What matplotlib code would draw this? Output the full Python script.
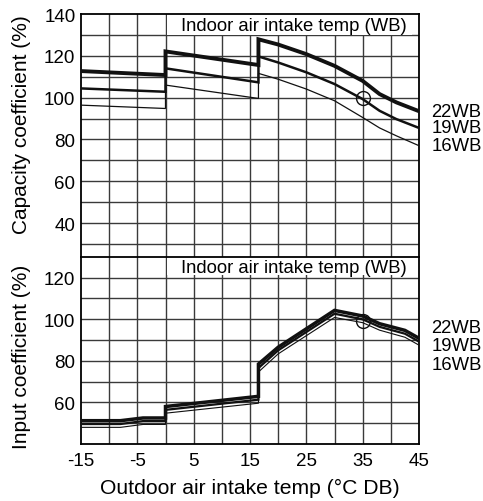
import matplotlib
matplotlib.use("Agg")
import matplotlib.pyplot as plt
from matplotlib.patches import Rectangle
import matplotlib.transforms as mtransforms

plt.rcParams['font.family'] = ['Liberation Sans', 'DejaVu Sans']

# 외기 온도 (°C DB)
temp_cap = [-15, 0, 0, 16.5, 16.5, 20, 25, 30, 35, 38, 41, 45]
cap_22 = [112.7, 110.8, 122.1, 115.6, 127.9, 125.4, 120.8, 115.2, 108.0, 101.7, 97.7, 93.5]
cap_19 = [104.4, 102.8, 114.0, 107.3, 119.7, 116.8, 112.1, 106.5, 99.3, 93.7, 89.7, 85.5]
cap_16 = [96.4, 94.8, 106.0, 99.6, 111.6, 108.8, 104.1, 98.5, 90.5, 85.5, 81.7, 77.0]

temp_inp = [-15, -8, -4, 0, 0, 16.5, 16.5, 20, 30, 35, 38, 42.5, 45]
inp_22 = [51.2, 51.2, 52.5, 52.5, 58.0, 62.9, 78.4, 86.5, 104.2, 101.5, 97.8, 94.6, 90.8]
inp_19 = [49.6, 49.6, 51.0, 51.0, 56.4, 61.3, 76.5, 85.0, 102.6, 99.9, 96.3, 93.0, 89.2]
inp_16 = [48.0, 48.0, 49.4, 49.4, 54.8, 59.6, 74.6, 83.3, 100.8, 98.3, 94.7, 91.3, 87.5]

wb_labels = ['22WB', '19WB', '16WB']
cap_label_y = [93.2, 85.9, 76.9]
inp_label_y = [96.1, 87.3, 78.0]
x_ticks = [-15, -5, 5, 15, 25, 35, 45]
cap_ticks = [40, 60, 80, 100, 120, 140]
inp_ticks = [60, 80, 100, 120]

fig = plt.figure(figsize=(4.83, 5.02), dpi=100)
L, R = 81 / 483, 419 / 483
ax1 = fig.add_axes([L, 1 - 257.7 / 502, R - L, (257.7 - 15) / 502])
ax2 = fig.add_axes([L, 1 - 445 / 502, R - L, (445 - 257.7) / 502])

grid_kw = dict(color='#3a3a3a', linewidth=1.0, zorder=1)
widths = [2.8, 1.8, 0.9]


def setup(ax, ylim, yticks, hlines):
    ax.set_xlim(-15, 45)
    ax.set_ylim(*ylim)
    for x in range(-10, 45, 5):
        ax.axvline(x, **grid_kw)
    for y in hlines:
        ax.axhline(y, **grid_kw)
    ax.set_yticks(yticks)
    ax.tick_params(length=0, labelsize=13.5, pad=4)
    for s in ax.spines.values():
        s.set_linewidth(1.3)
        s.set_color('black')


# [상단] 능력 계수
setup(ax1, (23.9, 140), cap_ticks, range(30, 140, 10))
ax1.spines['bottom'].set_visible(False)
ax1.set_xticks([])
ax1.add_patch(Rectangle((0.25, 130), 43.45, 10, facecolor='white', edgecolor='none', zorder=2))
ax1.text(22.75, 134.3, 'Indoor air intake temp (WB)', ha='center', va='center', fontsize=13.3, zorder=3)
for vals, lw in zip([cap_22, cap_19, cap_16], widths):
    ax1.plot(temp_cap, vals, color='#111111', linewidth=lw, solid_joinstyle='miter', zorder=4)
ax1.plot([35], [100], marker='o', markersize=10, markerfacecolor='none',
         markeredgecolor='#111111', markeredgewidth=1.0, zorder=5)
t1 = mtransforms.blended_transform_factory(ax1.transAxes, ax1.transData)
for lab, y in zip(wb_labels, cap_label_y):
    ax1.text(1.037, y, lab, transform=t1, ha='left', va='center', fontsize=13.3, clip_on=False)

# [하단] 입력 계수
setup(ax2, (40, 130), inp_ticks, range(50, 130, 10))
ax2.add_patch(Rectangle((0.25, 121), 43.45, 9, facecolor='white', edgecolor='none', zorder=2))
ax2.text(22.75, 124.8, 'Indoor air intake temp (WB)', ha='center', va='center', fontsize=13.3, zorder=3)
for vals, lw in zip([inp_22, inp_19, inp_16], widths):
    ax2.plot(temp_inp, vals, color='#111111', linewidth=lw * 0.9, solid_joinstyle='miter', zorder=4)
ax2.plot([35], [99.3], marker='o', markersize=10, markerfacecolor='none',
         markeredgecolor='#111111', markeredgewidth=1.0, zorder=5)
t2 = mtransforms.blended_transform_factory(ax2.transAxes, ax2.transData)
for lab, y in zip(wb_labels, inp_label_y):
    ax2.text(1.037, y, lab, transform=t2, ha='left', va='center', fontsize=13.3, clip_on=False)
ax2.set_xticks(x_ticks)
ax2.set_xticklabels([str(x) for x in x_ticks])
ax2.tick_params(axis='x', pad=6)

fig.text(250 / 483, 1 - 488 / 502, 'Outdoor air intake temp (°C DB)', ha='center', va='center', fontsize=15.2)
fig.text(22 / 483, 1 - 125 / 502, 'Capacity coefficient (%)', ha='center', va='center', rotation=90, fontsize=15)
fig.text(22 / 483, 1 - 357 / 502, 'Input coefficient (%)', ha='center', va='center', rotation=90, fontsize=15)

fig.savefig('out.png', dpi=100)
